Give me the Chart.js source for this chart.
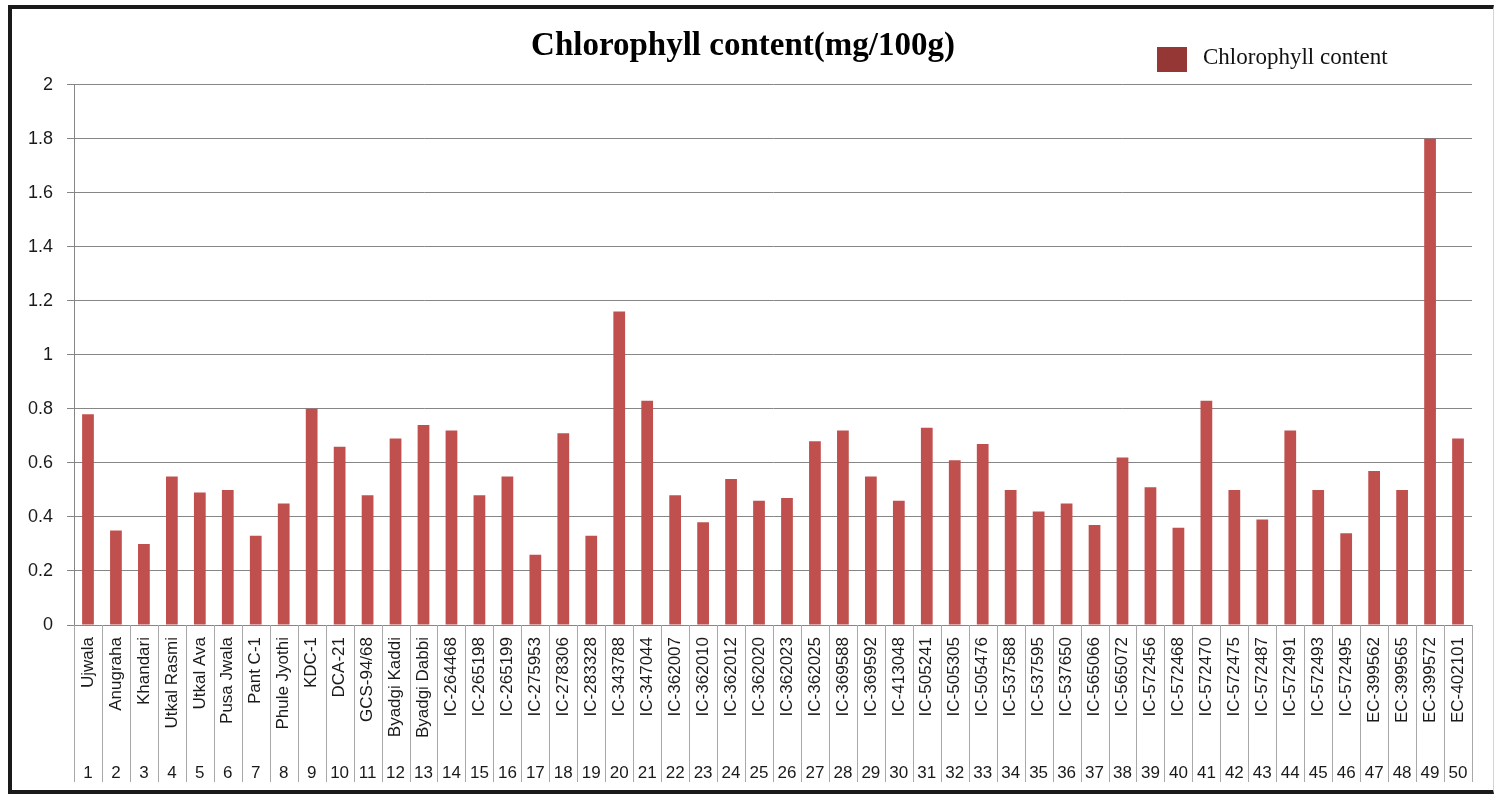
<!DOCTYPE html>
<html>
<head>
<meta charset="utf-8">
<title>Chlorophyll content</title>
<script src="https://cdn.jsdelivr.net/npm/chart.js@4.4.1/dist/chart.umd.min.js"></script>
<style>
  html, body { margin: 0; padding: 0; background: #fff; }
  #wrap { position: relative; width: 1495px; height: 795px; }
  #frame {
    position: absolute; left: 8px; top: 5px; width: 1486px; height: 789px;
    border: 4px solid #1a1a1a; border-right: 1px solid #d4d4d4;
    box-sizing: border-box; pointer-events: none;
  }
</style>
</head>
<body>
<div id="wrap">
  <canvas id="grafico"></canvas>
  <div id="frame"></div>
</div>
<script>
// genotypes (x axis names)
const genotypes = [
  'Ujwala', 'Anugraha', 'Khandari', 'Utkal Rasmi', 'Utkal Ava', 'Pusa Jwala', 'Pant C-1',
  'Phule Jyothi', 'KDC-1', 'DCA-21', 'GCS-94/68', 'Byadgi Kaddi', 'Byadgi Dabbi',
  'IC-264468', 'IC-265198', 'IC-265199', 'IC-275953', 'IC-278306', 'IC-283328',
  'IC-343788', 'IC-347044', 'IC-362007', 'IC-362010', 'IC-362012', 'IC-362020',
  'IC-362023', 'IC-362025', 'IC-369588', 'IC-369592', 'IC-413048', 'IC-505241',
  'IC-505305', 'IC-505476', 'IC-537588', 'IC-537595', 'IC-537650', 'IC-565066',
  'IC-565072', 'IC-572456', 'IC-572468', 'IC-572470', 'IC-572475', 'IC-572487',
  'IC-572491', 'IC-572493', 'IC-572495', 'EC-399562', 'EC-399565', 'EC-399572', 'EC-402101'
];

// serial numbers shown under the names
const serialNos = [
  '1', '2', '3', '4', '5', '6', '7', '8', '9', '10',
  '11', '12', '13', '14', '15', '16', '17', '18', '19', '20',
  '21', '22', '23', '24', '25', '26', '27', '28', '29', '30',
  '31', '32', '33', '34', '35', '36', '37', '38', '39', '40',
  '41', '42', '43', '44', '45', '46', '47', '48', '49', '50'
];

// chlorophyll content (mg/100g)
const chlorophyll = [
  0.78, 0.35, 0.30, 0.55, 0.49, 0.50, 0.33, 0.45, 0.80, 0.66,
  0.48, 0.69, 0.74, 0.72, 0.48, 0.55, 0.26, 0.71, 0.33, 1.16,
  0.83, 0.48, 0.38, 0.54, 0.46, 0.47, 0.68, 0.72, 0.55, 0.46,
  0.73, 0.61, 0.67, 0.50, 0.42, 0.45, 0.37, 0.62, 0.51, 0.36,
  0.83, 0.50, 0.39, 0.72, 0.50, 0.34, 0.57, 0.50, 1.80, 0.69
];

const yMin = 0, yMax = 2, yStep = 0.2;

const corBarra = '#C0504D';
const corLegenda = '#953735';
const corGrade = '#868686';

// legenda no canto superior direito, na altura do titulo
const legendaCanto = {
  id: 'legendaCanto',
  afterDraw(chart) {
    const ctx = chart.ctx;
    const ds = chart.data.datasets[0];
    const x = chart.chartArea.right - 315;
    const y = 47;
    ctx.save();
    ctx.fillStyle = corLegenda;
    ctx.fillRect(x, y, 30, 25);
    ctx.fillStyle = '#111';
    ctx.font = '23px "Liberation Serif"';
    ctx.textBaseline = 'middle';
    ctx.fillText(ds.label, x + 46, y + 11);
    ctx.restore();
  }
};

// linhas verticais entre os rotulos das categorias
const divisorias = {
  id: 'divisorias',
  afterDraw(chart) {
    const xs = chart.scales.x;
    const ctx = chart.ctx;
    const n = xs.ticks.length;
    const passo = xs.width / n;
    const fim = chart.scales.x2.bottom - 5;
    ctx.save();
    ctx.strokeStyle = '#a8a8a8';
    ctx.lineWidth = 1;
    for (let i = 0; i <= n; i++) {
      const px = Math.round(xs.left + i * passo) + 0.5;
      ctx.beginPath();
      ctx.moveTo(px, chart.chartArea.bottom);
      ctx.lineTo(px, fim);
      ctx.stroke();
    }
    ctx.restore();
  }
};

const fonteEixo = { family: '"Liberation Sans", Arial, sans-serif', size: 17 };

const ctx = document.getElementById('grafico').getContext('2d');
new Chart(ctx, {
  type: 'bar',
  data: {
    labels: genotypes,
    datasets: [{
      label: 'Chlorophyll content',
      data: chlorophyll,
      backgroundColor: corBarra,
      barPercentage: 0.42,
      categoryPercentage: 1.0,
      xAxisID: 'x'
    }]
  },
  options: {
    responsive: true,
    maintainAspectRatio: false,
    animation: false,
    layout: { padding: { left: 14, right: 23, top: 5, bottom: 8 } },
    plugins: {
      legend: { display: false },
      tooltip: { enabled: false },
      title: {
        display: true,
        text: 'Chlorophyll content(mg/100g)',
        color: '#000',
        font: { family: '"Liberation Serif", "Times New Roman", serif', size: 33, weight: 'bold' },
        padding: { top: 22, bottom: 18 }
      }
    },
    scales: {
      x: {
        type: 'category',
        position: 'bottom',
        offset: true,
        grid: { display: false, drawTicks: false },
        border: { display: true, color: corGrade },
        ticks: {
          autoSkip: false, minRotation: 90, maxRotation: 90,
          padding: 12, color: '#1a1a1a', font: fonteEixo
        },
        afterFit: s => { s.height = 130; }
      },
      x2: {
        type: 'category',
        labels: serialNos,
        position: 'bottom',
        offset: true,
        grid: { display: false, drawTicks: false },
        border: { display: false },
        ticks: { autoSkip: false, maxRotation: 0, padding: 8, color: '#1a1a1a', font: fonteEixo },
        afterFit: s => { s.height = 32; }
      },
      y: {
        min: yMin,
        max: yMax,
        grid: { color: corGrade, tickLength: 7 },
        border: { color: corGrade },
        ticks: {
          stepSize: yStep, padding: 14, color: '#1a1a1a',
          font: { family: fonteEixo.family, size: 18 },
          callback: v => String(Number(v.toFixed(1)))
        },
        afterFit: s => { s.width = 60; }
      }
    }
  },
  plugins: [legendaCanto, divisorias]
});
</script>
</body>
</html>
